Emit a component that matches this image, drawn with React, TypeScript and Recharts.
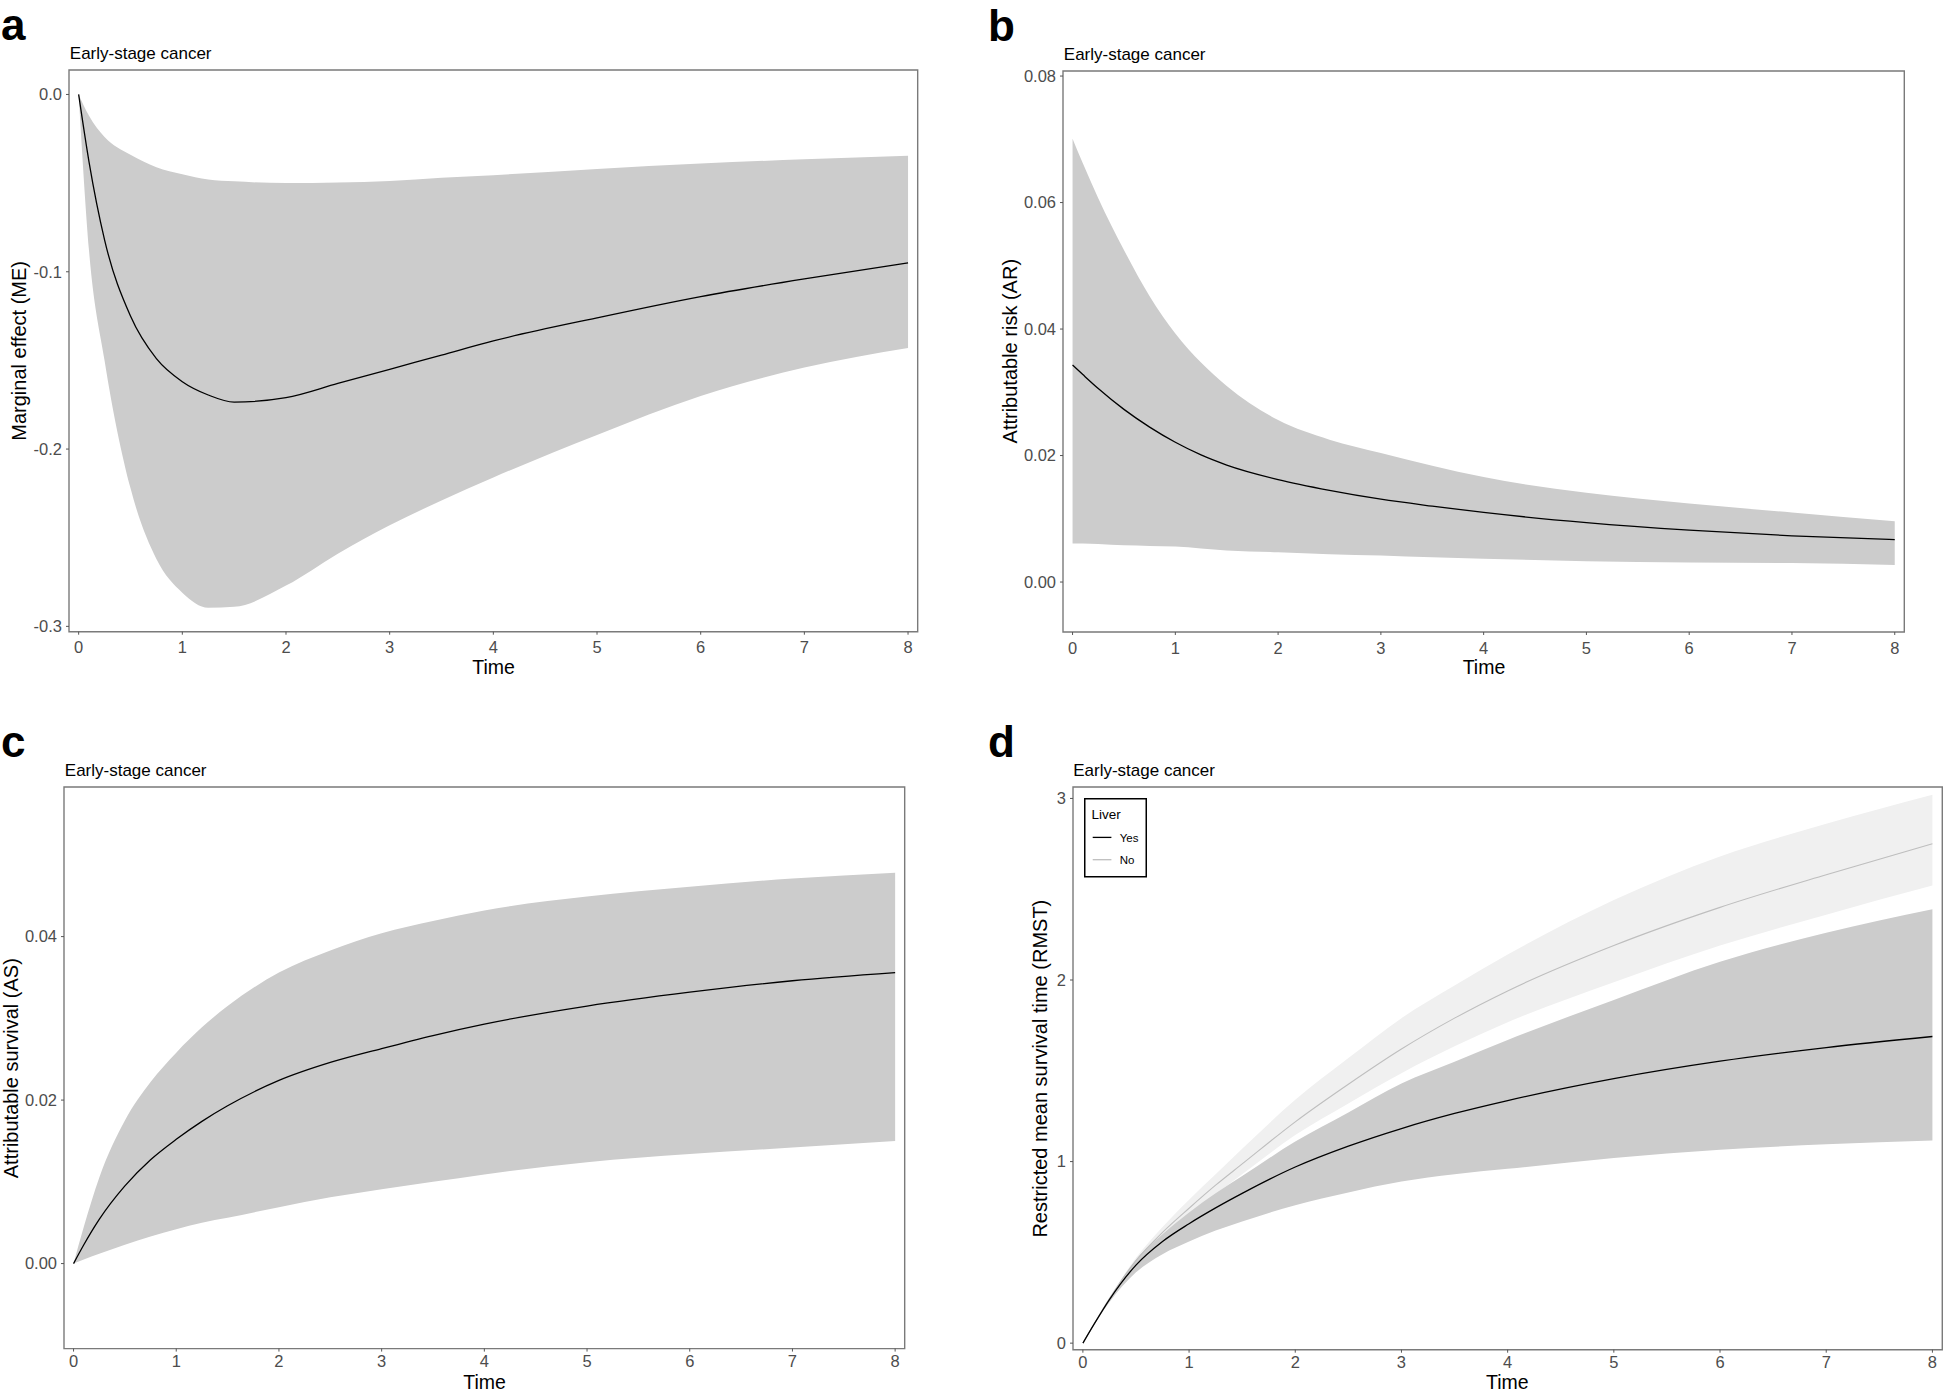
import { ComposedChart, Area, Line, XAxis, YAxis, ReferenceArea, Legend } from 'recharts'

const FONT = '"Liberation Sans", Arial, sans-serif'

// shared time grid (years)
const TIME = [0, 0.1, 0.25, 0.5, 0.75, 1, 1.25, 1.5, 2, 2.5, 3, 3.5, 4, 5, 6, 7, 8]
const TIME_TICKS = [0, 1, 2, 3, 4, 5, 6, 7, 8]

// a: marginal effect
const meMid = [0, -0.038, -0.082, -0.125, -0.149, -0.162, -0.1695, -0.1735, -0.171, -0.163, -0.155, -0.147, -0.139, -0.126, -0.114, -0.104, -0.095]
const meLow = [0, -0.088, -0.15, -0.222, -0.262, -0.281, -0.2895, -0.289, -0.277, -0.259, -0.243, -0.229, -0.216, -0.192, -0.17, -0.154, -0.143]
const meHigh = [0, -0.012, -0.024, -0.034, -0.041, -0.045, -0.048, -0.049, -0.05, -0.0497, -0.0488, -0.047, -0.0455, -0.042, -0.039, -0.0365, -0.0345]
const meTicks = [0, -0.1, -0.2, -0.3]

// b: attributable risk
const arMid = [0.0343, 0.0328, 0.0306, 0.0273, 0.0245, 0.0221, 0.0201, 0.0185, 0.0162, 0.0145, 0.0131, 0.012, 0.011, 0.0094, 0.0082, 0.0073, 0.0067]
const arLow = [0.0061, 0.0061, 0.006, 0.0058, 0.0057, 0.0056, 0.0053, 0.005, 0.0047, 0.0044, 0.0042, 0.0039, 0.0037, 0.0033, 0.0031, 0.003, 0.0027]
const arHigh = [0.0701, 0.0662, 0.0607, 0.0525, 0.0452, 0.0393, 0.0347, 0.031, 0.0256, 0.0225, 0.0204, 0.0184, 0.0166, 0.0141, 0.0124, 0.011, 0.0096]
const arTicks = [0, 0.02, 0.04, 0.06, 0.08]

// c: attributable survival
const asMid = [0, 0.0023, 0.0054, 0.0095, 0.0127, 0.0152, 0.0174, 0.0193, 0.0224, 0.0246, 0.0263, 0.0279, 0.0293, 0.0315, 0.0332, 0.0346, 0.0356]
const asLow = [0, 0.0005, 0.0012, 0.0023, 0.0033, 0.0042, 0.005, 0.0056, 0.0069, 0.0081, 0.0091, 0.01, 0.0109, 0.0124, 0.0134, 0.0142, 0.015]
const asHigh = [0, 0.0045, 0.0105, 0.0175, 0.0222, 0.0258, 0.0289, 0.0315, 0.0356, 0.0383, 0.0404, 0.0419, 0.0432, 0.0449, 0.0461, 0.0471, 0.0478]
const asTicks = [0, 0.02, 0.04]

// d: RMST by liver metastasis
const LIVER_GROUPS = ['Yes', 'No']
const yesMid = [0, 0.099, 0.24, 0.43, 0.56, 0.658, 0.745, 0.825, 0.97, 1.085, 1.182, 1.265, 1.336, 1.457, 1.553, 1.628, 1.689]
const yesLow = [0, 0.095, 0.225, 0.39, 0.49, 0.56, 0.62, 0.67, 0.76, 0.83, 0.89, 0.93, 0.96, 1.02, 1.065, 1.095, 1.116]
const yesHigh = [0, 0.1, 0.245, 0.46, 0.6, 0.72, 0.825, 0.92, 1.11, 1.27, 1.43, 1.55, 1.67, 1.89, 2.1, 2.26, 2.39]
const noMid = [0, 0.1, 0.245, 0.455, 0.61, 0.743, 0.87, 0.987, 1.219, 1.426, 1.62, 1.79, 1.94, 2.19, 2.4, 2.58, 2.75]
const noLow = [0, 0.098, 0.24, 0.445, 0.585, 0.707, 0.82, 0.93, 1.146, 1.32, 1.487, 1.635, 1.767, 1.987, 2.19, 2.36, 2.52]
const noHigh = [0, 0.1, 0.25, 0.47, 0.64, 0.79, 0.93, 1.07, 1.34, 1.57, 1.79, 1.97, 2.14, 2.44, 2.68, 2.86, 3.02]
const rmstTicks = [0, 1, 2, 3]

const singleRows = (mid: number[], low: number[], high: number[]) =>
  TIME.map((t, i) => ({ t, mid: mid[i], band: [low[i], high[i]] }))

const rmstRows = TIME.map((t, i) => ({
  t,
  yes: yesMid[i],
  yesBand: [yesLow[i], yesHigh[i]],
  no: noMid[i],
  noBand: [noLow[i], noHigh[i]],
}))

interface Box { l: number; t: number; r: number; b: number }

const YW = 80
const MT = 10
const MR = 10
const XH = 60
const X_DOMAIN: [number, number] = [-0.093, 8.093]

const boxA: Box = { l: 69.3, t: 70, r: 918, b: 631.7 }
const boxB: Box = { l: 1063.3, t: 70.7, r: 1904.6, b: 631.7 }
const boxC: Box = { l: 64.3, t: 787.4, r: 905, b: 1349 }
const boxD: Box = { l: 1072.7, t: 787.3, r: 1942, b: 1350 }

const tickStyle = { fontSize: 16.5, fill: '#4D4D4D', fontFamily: FONT }

interface FrameProps {
  box: Box
  data: Array<Record<string, unknown>>
  yDomain: [number, number]
  yTicks: number[]
  digits: number
  xTickMargin?: number
  children: React.ReactNode
}

function Frame({ box, data, yDomain, yTicks, digits, xTickMargin = 7, children }: FrameProps) {
  const w = box.r - box.l + YW + MR
  const h = box.b - box.t + MT + XH
  return (
    <div style={{ position: 'absolute', left: box.l - YW, top: box.t - MT }}>
      <ComposedChart width={w} height={h} data={data} margin={{ top: MT, right: MR, bottom: 0, left: 0 }}>
        <XAxis
          dataKey="t"
          type="number"
          domain={X_DOMAIN}
          ticks={TIME_TICKS}
          interval={0}
          allowDataOverflow
          axisLine={false}
          tickLine={{ stroke: '#555' }}
          tickSize={3}
          tickMargin={xTickMargin}
          height={XH}
          tick={tickStyle}
          fontSize={16.5}
        />
        <YAxis
          type="number"
          domain={yDomain}
          ticks={yTicks}
          interval={0}
          allowDataOverflow
          axisLine={false}
          tickLine={{ stroke: '#555' }}
          tickSize={3}
          tickMargin={4}
          width={YW}
          tick={tickStyle}
          fontSize={16.5}
          tickFormatter={(v: number) => v.toFixed(digits)}
        />
        {children}
        <ReferenceArea
          x1={X_DOMAIN[0]}
          x2={X_DOMAIN[1]}
          y1={yDomain[0]}
          y2={yDomain[1]}
          fill="none"
          stroke="#7a7a7a"
          strokeWidth={1.4}
          ifOverflow="visible"
        />
      </ComposedChart>
    </div>
  )
}

function LiverLegend(props: { payload?: Array<{ value: string; color?: string; type?: string }> }) {
  const items = LIVER_GROUPS.map((g) => (props.payload ?? []).find((it) => it.value === g && it.type !== 'none')).filter(
    (it): it is { value: string; color?: string } => Boolean(it),
  )
  return (
    <svg width={63} height={80} style={{ display: 'block' }}>
      <rect x={0.75} y={0.75} width={61.5} height={78} fill="#fff" stroke="#000" strokeWidth={1.5} />
      <text x={7.4} y={20.5} fontSize={13.5} fontFamily={FONT} fill="#000">Liver</text>
      {items.map((it, i) => (
        <g key={it.value}>
          <line x1={8.7} x2={27.4} y1={39.4 + i * 22.3} y2={39.4 + i * 22.3} stroke={it.color} strokeWidth={1.3} />
          <text x={35.7} y={43.6 + i * 22.3} fontSize={11.5} fontFamily={FONT} fill="#000">{it.value}</text>
        </g>
      ))}
    </svg>
  )
}

const panels = [
  { box: boxA, letter: 'a', letterX: 1, yTitle: 'Marginal effect (ME)', yTitleX: 26 },
  { box: boxB, letter: 'b', letterX: 988, yTitle: 'Attributable risk (AR)', yTitleX: 1017 },
  { box: boxC, letter: 'c', letterX: 1, yTitle: 'Attributable survival (AS)', yTitleX: 18.5 },
  { box: boxD, letter: 'd', letterX: 988, yTitle: 'Restricted mean survival time (RMST)', yTitleX: 1047 },
]

export default function App() {
  return (
    <div style={{ position: 'absolute', left: 0, top: 0, width: 1943, height: 1393, overflow: 'hidden', background: '#fff' }}>
      <Frame box={boxA} data={singleRows(meMid, meLow, meHigh)} yDomain={[-0.303, 0.0138]} yTicks={meTicks} digits={1}>
        <Area type="monotone" dataKey="band" fill="#CCCCCC" fillOpacity={1} stroke="none" isAnimationActive={false} legendType="none" />
        <Line type="monotone" dataKey="mid" stroke="#000" strokeWidth={1.3} dot={false} isAnimationActive={false} />
      </Frame>
      <Frame box={boxB} data={singleRows(arMid, arLow, arHigh)} yDomain={[-0.0079, 0.0808]} yTicks={arTicks} digits={2}>
        <Area type="monotone" dataKey="band" fill="#CCCCCC" fillOpacity={1} stroke="none" isAnimationActive={false} legendType="none" />
        <Line type="monotone" dataKey="mid" stroke="#000" strokeWidth={1.3} dot={false} isAnimationActive={false} />
      </Frame>
      <Frame box={boxC} data={singleRows(asMid, asLow, asHigh)} yDomain={[-0.0104, 0.0583]} yTicks={asTicks} digits={2} xTickMargin={4}>
        <Area type="monotone" dataKey="band" fill="#CCCCCC" fillOpacity={1} stroke="none" isAnimationActive={false} legendType="none" />
        <Line type="monotone" dataKey="mid" stroke="#000" strokeWidth={1.3} dot={false} isAnimationActive={false} />
      </Frame>
      <Frame box={boxD} data={rmstRows} yDomain={[-0.036, 3.063]} yTicks={rmstTicks} digits={0} xTickMargin={4}>
        <Area type="monotone" dataKey="noBand" fill="#F0F0F0" fillOpacity={1} stroke="none" isAnimationActive={false} legendType="none" />
        <Area type="monotone" dataKey="yesBand" fill="#CCCCCC" fillOpacity={1} stroke="none" isAnimationActive={false} legendType="none" />
        <Line type="monotone" dataKey="no" name="No" stroke="#BEBEBE" strokeWidth={1.1} dot={false} isAnimationActive={false} />
        <Line type="monotone" dataKey="yes" name="Yes" stroke="#000" strokeWidth={1.3} dot={false} isAnimationActive={false} />
        <Legend
          layout="horizontal"
          verticalAlign="middle"
          align="center"
          wrapperStyle={{ left: 91.6, top: 21, width: 63, height: 80 }}
          content={LiverLegend}
        />
      </Frame>
      <svg width={1943} height={1393} style={{ position: 'absolute', left: 0, top: 0, pointerEvents: 'none' }} fontFamily={FONT}>
        {panels.map((p) => (
          <g key={p.letter}>
            <text x={p.letterX} y={p.box.t - 30} fontSize={44} fontWeight="bold" fill="#000">{p.letter}</text>
            <text x={p.box.l + 0.5} y={p.box.t - 11} fontSize={17} fill="#000">Early-stage cancer</text>
            <text x={(p.box.l + p.box.r) / 2} y={Math.min(p.box.b + 42.6, 1388.8)} fontSize={19.5} textAnchor="middle" fill="#000">Time</text>
            <text
              x={p.yTitleX}
              y={(p.box.t + p.box.b) / 2}
              fontSize={20}
              textAnchor="middle"
              fill="#000"
              transform={`rotate(-90 ${p.yTitleX} ${(p.box.t + p.box.b) / 2})`}
            >
              {p.yTitle}
            </text>
          </g>
        ))}
      </svg>
    </div>
  )
}
